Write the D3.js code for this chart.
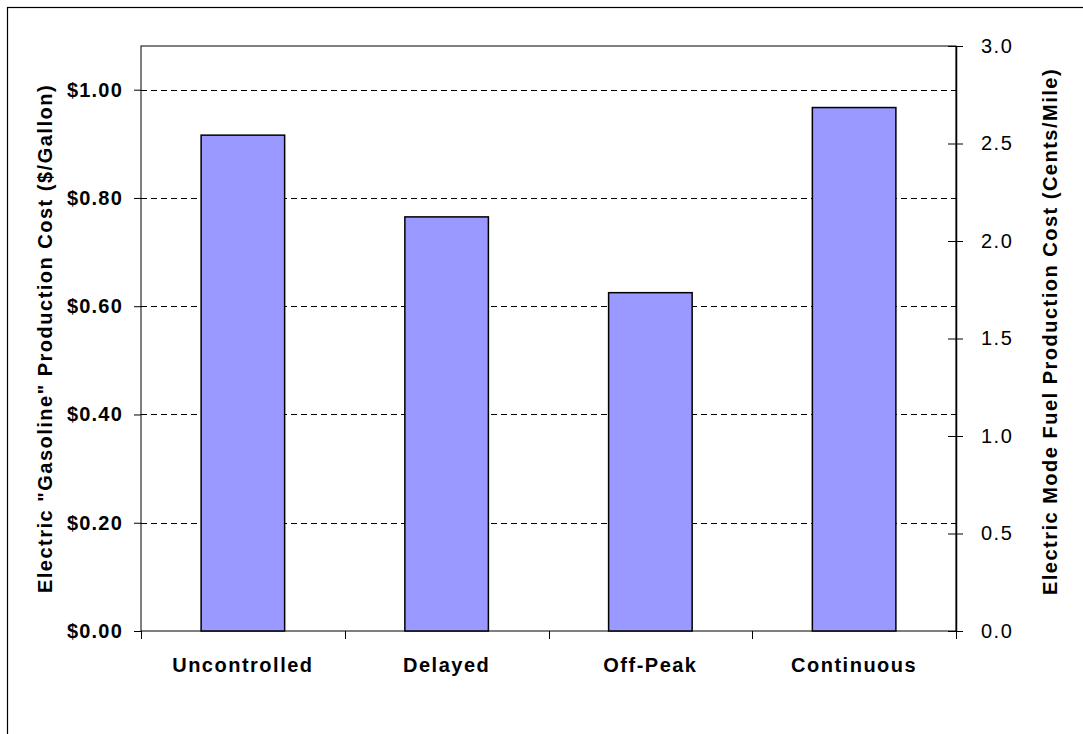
<!DOCTYPE html>
<html>
<head>
<meta charset="utf-8">
<script src="https://cdn.jsdelivr.net/npm/d3@7"></script>
<style>
  body { margin: 0; background: #fff; }
  svg { display: block; font-family: "Liberation Sans", Arial, sans-serif; }
</style>
</head>
<body>
<svg id="chart" width="1083" height="734"></svg>
<script>
const categories = ["Uncontrolled", "Delayed", "Off-Peak", "Continuous"];
const costPerGallon = [0.916, 0.765, 0.625, 0.967];
const leftTicks = [0, 0.2, 0.4, 0.6, 0.8, 1.0];
const rightTicks = [0, 0.5, 1.0, 1.5, 2.0, 2.5, 3.0];

const width = 1083;
const height = 734;
const plot = { left: 141, right: 956, top: 46, bottom: 631 };

const svg = d3.select("#chart");

// outer chart-area border (only top and left edges fall inside the window)
svg.append("rect")
  .attr("x", 7.5).attr("y", 7.5)
  .attr("width", width + 20).attr("height", height + 20)
  .attr("fill", "none")
  .attr("stroke", "#000")
  .attr("stroke-width", 1.2);

const x = d3.scaleBand()
  .domain(categories)
  .range([plot.left, plot.right])
  .padding(0);

const yL = d3.scaleLinear()
  .domain([0, 1.0807])
  .range([plot.bottom, plot.top]);

const yR = d3.scaleLinear()
  .domain([0, 3])
  .range([plot.bottom, plot.top]);

// plot area frame
svg.append("rect")
  .attr("x", plot.left).attr("y", plot.top)
  .attr("width", plot.right - plot.left)
  .attr("height", plot.bottom - plot.top)
  .attr("fill", "none")
  .attr("stroke", "#000");

// dashed gridlines
svg.append("g")
  .selectAll("line")
  .data(leftTicks.filter(d => d > 0))
  .join("line")
  .attr("x1", plot.left).attr("x2", plot.right)
  .attr("y1", d => Math.round(yL(d)) + 0.5)
  .attr("y2", d => Math.round(yL(d)) + 0.5)
  .attr("stroke", "#000")
  .attr("stroke-width", 1.1)
  .attr("stroke-dasharray", "6 4");

// bars
const barW = x.bandwidth() * 0.41;
svg.append("g")
  .selectAll("rect")
  .data(categories)
  .join("rect")
  .attr("x", d => x(d) + (x.bandwidth() - barW) / 2)
  .attr("y", (d, i) => yL(costPerGallon[i]))
  .attr("width", barW)
  .attr("height", (d, i) => yL(0) - yL(costPerGallon[i]))
  .attr("fill", "#9999FF")
  .attr("stroke", "#000")
  .attr("stroke-width", 1.5);

// left axis
const gL = svg.append("g")
  .attr("transform", `translate(${plot.left},0)`)
  .call(d3.axisLeft(yL)
    .tickValues(leftTicks)
    .tickSize(7)
    .tickPadding(11)
    .tickFormat(d3.format("$.2f")));
gL.select(".domain").remove();
gL.selectAll("text")
  .attr("font-size", 20)
  .attr("font-weight", "bold")
  .attr("letter-spacing", 1.2)
  .attr("fill", "#000")
  .attr("font-family", "Liberation Sans, Arial, sans-serif");

// right axis
const gR = svg.append("g")
  .attr("transform", `translate(${plot.right},0)`)
  .call(d3.axisRight(yR)
    .tickValues(rightTicks)
    .tickSize(7)
    .tickPadding(18)
    .tickFormat(d3.format(".1f")));
gR.select(".domain").attr("stroke-width", 1.5).attr("d", `M0.5,${plot.top}V${plot.bottom + 1}`);
gR.selectAll(".tick line").attr("x1", -8).attr("x2", 7);
gR.selectAll("text")
  .attr("font-size", 20)
  .attr("letter-spacing", 1.5)
  .attr("fill", "#000")
  .attr("font-family", "Liberation Sans, Arial, sans-serif");

// bottom axis: labels centred in each category, ticks on category boundaries
const gB = svg.append("g")
  .attr("transform", `translate(0,${plot.bottom})`)
  .call(d3.axisBottom(x).tickSize(0).tickPadding(27));
gB.select(".domain").remove();
gB.selectAll("text")
  .attr("font-size", 20)
  .attr("font-weight", "bold")
  .attr("letter-spacing", 1.5)
  .attr("fill", "#000")
  .attr("font-family", "Liberation Sans, Arial, sans-serif");

const boundaries = categories.map(c => x(c)).concat([plot.right]);
gB.append("g")
  .selectAll("line")
  .data(boundaries)
  .join("line")
  .attr("x1", d => Math.round(d) + 0.5)
  .attr("x2", d => Math.round(d) + 0.5)
  .attr("y1", 0).attr("y2", 8)
  .attr("stroke", "#000");

// axis titles
svg.append("text")
  .attr("transform", `translate(52,${(plot.top + plot.bottom) / 2}) rotate(-90)`)
  .attr("text-anchor", "middle")
  .attr("font-size", 20)
  .attr("font-weight", "bold")
  .attr("letter-spacing", 1.5)
  .text('Electric "Gasoline" Production Cost ($/Gallon)');

svg.append("text")
  .attr("transform", `translate(1057,${(plot.top + plot.bottom) / 2 - 7}) rotate(-90)`)
  .attr("text-anchor", "middle")
  .attr("font-size", 20)
  .attr("font-weight", "bold")
  .attr("letter-spacing", 1.5)
  .text("Electric Mode Fuel Production Cost (Cents/Mile)");
</script>
</body>
</html>
